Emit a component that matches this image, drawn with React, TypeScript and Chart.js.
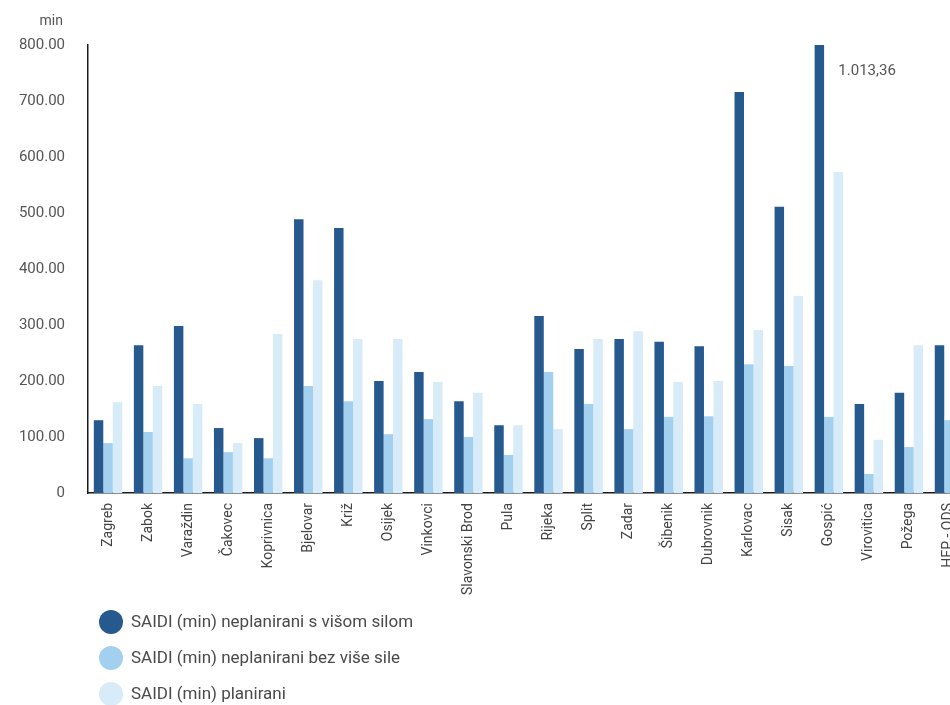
import React, { useEffect, useRef } from "react";
import { Chart, registerables } from "chart.js";

Chart.register(...registerables);

const categories = [
  "Zagreb", "Zabok", "Varaždin", "Čakovec", "Koprivnica", "Bjelovar", "Križ",
  "Osijek", "Vinkovci", "Slavonski Brod", "Pula", "Rijeka", "Split", "Zadar",
  "Šibenik", "Dubrovnik", "Karlovac", "Sisak", "Gospić", "Virovitica", "Požega",
  "HEP - ODS",
];

const seriesNames = [
  "SAIDI (min) neplanirani s višom silom",
  "SAIDI (min) neplanirani bez više sile",
  "SAIDI (min) planirani",
];

const withForceMajeure = [
  130, 264, 298, 116, 98, 489, 473, 200, 216, 164, 121, 316, 257, 275, 270, 262,
  716, 511, 1013.36, 159, 179, 264,
];
const withoutForceMajeure = [
  89, 109, 62, 73, 62, 191, 164, 105, 132, 100, 68, 216, 159, 114, 136, 137,
  230, 227, 136, 34, 82, 130,
];
const planned = [
  162, 191, 159, 89, 284, 380, 275, 275, 198, 179, 121, 114, 275, 289, 198, 200,
  291, 352, 573, 95, 264, 250,
];

const colors = ["#26598e", "#a4d0ef", "#d8ebf8"];

const yTicks = [0, 100, 200, 300, 400, 500, 600, 700, 800];
const yUnit = "min";

const FONT = "Roboto, 'Open Sans', sans-serif";

const formatTick = (v: number) => (v === 0 ? "0" : v.toFixed(2));
const formatCroatian = (v: number) => {
  const [intPart, dec] = v.toFixed(2).split(".");
  return intPart.replace(/\B(?=(\d{3})+(?!\d))/g, ".") + "," + dec;
};

export default function App() {
  const canvasRef = useRef<HTMLCanvasElement | null>(null);

  useEffect(() => {
    const canvas = canvasRef.current;
    if (!canvas) return;

    const yMax = yTicks[yTicks.length - 1];

    const overlay = {
      id: "overlay",
      afterDraw(chart: any) {
        const { ctx, chartArea } = chart;
        ctx.save();

        // unit label above the value axis
        ctx.font = `14px ${FONT}`;
        ctx.fillStyle = "#555555";
        ctx.textAlign = "right";
        ctx.textBaseline = "middle";
        ctx.fillText(yUnit, 63, 21);

        // values that exceed the axis maximum are written next to their bar
        const meta = chart.getDatasetMeta(0);
        withForceMajeure.forEach((v, i) => {
          if (v > yMax) {
            const bar = meta.data[i];
            ctx.font = `15px ${FONT}`;
            ctx.fillStyle = "#555555";
            ctx.textAlign = "left";
            ctx.textBaseline = "middle";
            ctx.fillText(formatCroatian(v), bar.x + 19, chartArea.top + 26);
          }
        });

        // vertical legend with round markers
        ctx.font = `17px ${FONT}`;
        ctx.textAlign = "left";
        ctx.textBaseline = "middle";
        seriesNames.forEach((name, i) => {
          const y = 622 + i * 36;
          ctx.beginPath();
          ctx.arc(111, y, 12, 0, Math.PI * 2);
          ctx.fillStyle = colors[i];
          ctx.fill();
          ctx.fillStyle = "#4a4a4a";
          ctx.fillText(name, 131, y + 1);
        });

        ctx.restore();
      },
    };

    const chart = new Chart(canvas, {
      type: "bar",
      data: {
        labels: categories,
        datasets: [withForceMajeure, withoutForceMajeure, planned].map((d, i) => ({
          label: seriesNames[i],
          data: d,
          backgroundColor: colors[i],
          borderWidth: 0,
          categoryPercentage: 0.71,
          barPercentage: 1,
        })),
      },
      options: {
        responsive: false,
        animation: false,
        devicePixelRatio: 1,
        layout: { padding: { top: 45, left: 0, right: 11, bottom: 102 } },
        plugins: {
          legend: { display: false },
          tooltip: { enabled: false },
        },
        scales: {
          x: {
            grid: { display: false, drawTicks: false },
            border: { display: true, color: "#1a1a1a", width: 1.5 },
            ticks: {
              minRotation: 90,
              maxRotation: 90,
              autoSkip: false,
              padding: 10,
              color: "#444444",
              font: { family: FONT, size: 14 },
            },
            afterFit(scale: any) {
              scale.height = 110;
            },
          },
          y: {
            min: 0,
            max: yMax,
            grid: { display: false, drawTicks: false },
            border: { display: true, color: "#1a1a1a", width: 1.5 },
            ticks: {
              stepSize: 100,
              padding: 23,
              color: "#555555",
              font: { family: FONT, size: 15 },
              callback: (v: any) => formatTick(Number(v)),
            },
            afterFit(scale: any) {
              scale.width = 88;
            },
          },
        },
      },
      plugins: [overlay],
    } as any);

    return () => chart.destroy();
  }, []);

  return (
    <div
      style={{
        position: "fixed",
        left: 0,
        top: 0,
        width: 950,
        height: 705,
        overflow: "hidden",
        background: "#ffffff",
      }}
    >
      <canvas ref={canvasRef} width={980} height={705} style={{ display: "block" }} />
    </div>
  );
}
